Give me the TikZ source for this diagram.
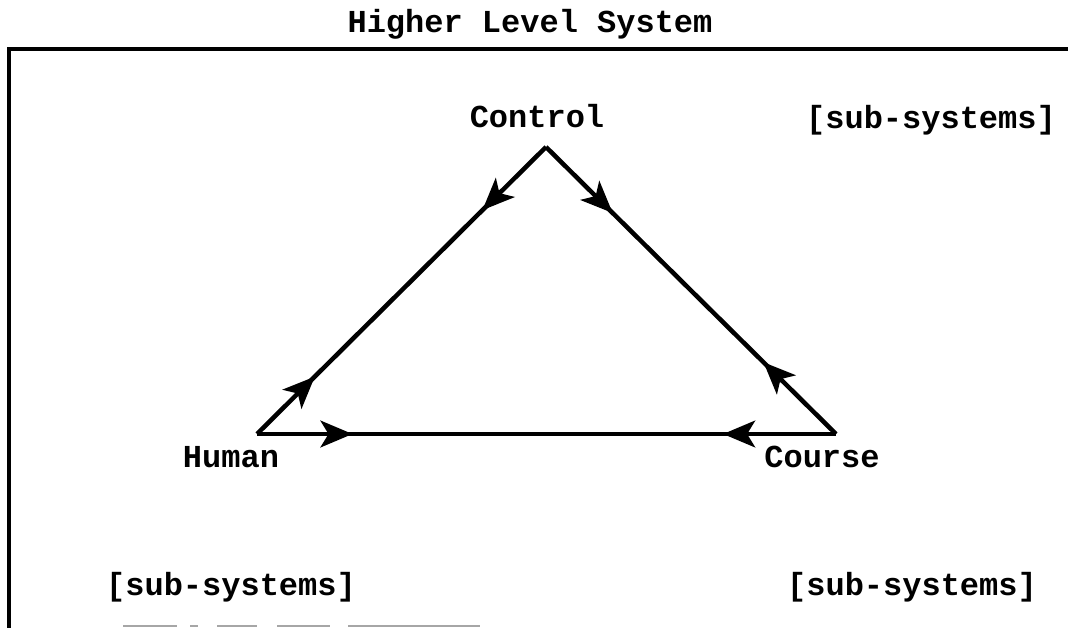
\documentclass[tikz,border=0pt]{standalone}
\usepackage{fontspec}
\setmainfont{Liberation Mono}
\usetikzlibrary{arrows.meta,decorations.markings}
\tikzset{
  lbl/.style={anchor=base,inner sep=0pt,font=\fontsize{24}{24}\selectfont\bfseries},
  frame/.style={line width=2.4pt,black},
  edge/.style={line width=3.4pt,black,line join=miter},
  grey/.style={line width=2pt,black!35},
}
\newcommand{\headtip}{Stealth[length=24pt,width=20pt,inset=6pt]}
\begin{document}
\begin{tikzpicture}[x=0.75pt,y=-0.75pt]
\useasboundingbox (0,0) rectangle (1068,628);
% frame
\draw[frame] (1068,49) -- (9,49) -- (9,628);
% faint artefact line at bottom
\draw[grey] (123,626) -- (177,626) (190,626) -- (198,626) (217,626) -- (257,626)
  (277,626) -- (330,626) (348,626) -- (480,626);
% corners
\coordinate (C) at (546,147);
\coordinate (H) at (257,434);
\coordinate (R) at (836,434);
% labels
\node[lbl] (title) at (530,32) {Higher Level System};
\node[lbl] (control) at (537,127) {Control};
\node[lbl] (human) at (231,467) {Human};
\node[lbl] (course) at (822,467) {Course};
\node[lbl] (subtr) at (931,128) {[sub-systems]};
\node[lbl] (subbl) at (231,595) {[sub-systems]};
\node[lbl] (subbr) at (912,595) {[sub-systems]};
% edges with arrows
\draw[edge,postaction={decorate},decoration={markings,
   mark=at position 0.22 with {\arrow{\headtip}},
   mark=at position 0.80 with {\arrowreversed{\headtip}}}] (C) -- (H);
\draw[edge,postaction={decorate},decoration={markings,
   mark=at position 0.165 with {\arrow{\headtip}},
   mark=at position 0.805 with {\arrowreversed{\headtip}}}] (H) -- (R);
\draw[edge,postaction={decorate},decoration={markings,
   mark=at position 0.23 with {\arrow{\headtip}},
   mark=at position 0.75 with {\arrowreversed{\headtip}}}] (C) -- (R);
\end{tikzpicture}
\end{document}
